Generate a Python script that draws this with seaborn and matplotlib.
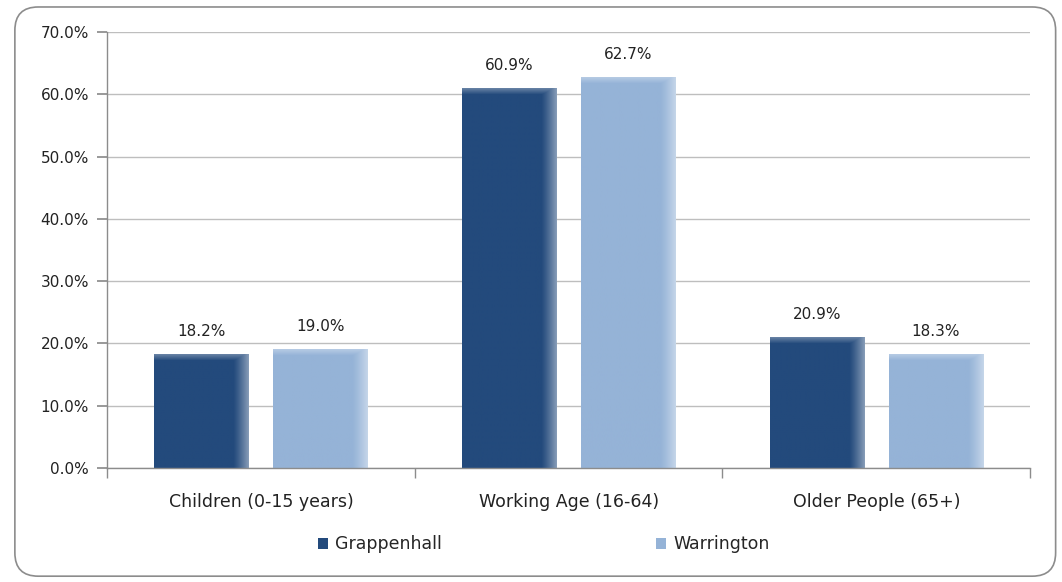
import matplotlib
matplotlib.use("Agg")
import matplotlib.pyplot as plt
import seaborn as sns
import pandas as pd
import numpy as np
from matplotlib.patches import FancyBboxPatch, Patch
from matplotlib.ticker import FixedLocator, PercentFormatter
from matplotlib.colors import to_rgb

categories = ["Children (0-15 years)", "Working Age (16-64)", "Older People (65+)"]
grappenhall = [18.2, 60.9, 20.9]
warrington = [19.0, 62.7, 18.3]
series_names = ["Grappenhall", "Warrington"]
yticks = [0, 10, 20, 30, 40, 50, 60, 70]

df = pd.DataFrame({
    "category": categories * 2,
    "value": grappenhall + warrington,
    "series": [series_names[0]] * 3 + [series_names[1]] * 3,
})

sns.set_theme(style="white")
plt.rcParams["font.family"] = ["DejaVu Sans"]

fig = plt.figure(figsize=(10.62, 5.82), dpi=100)
ax = fig.add_axes([0.1008, 0.196, 0.8692, 0.749])

colors = {"Grappenhall": "#234A7C", "Warrington": "#95B3D7"}
sns.barplot(data=df, x="category", y="value", hue="series", order=categories,
            hue_order=series_names, palette=colors, width=0.774, gap=0.21,
            ax=ax, legend=False, saturation=1)

ax.set_ylim(0, 70)
ax.set_xlim(-0.5, 2.5)

# gradient overlay: fade to lighter at right edge and top
units_per_px = 70 / 436.0
for p in list(ax.patches):
    x0, w, h = p.get_x(), p.get_width(), p.get_height()
    base = np.array(to_rgb(p.get_facecolor()))
    white = np.ones(3)
    ncols = 100
    nrows = max(int(h / units_per_px), 2)
    xs = np.linspace(0, 1, ncols)
    hfade = np.clip((xs - 0.84) / 0.16, 0, 1) ** 1.2 * 0.45
    ys_from_top = np.arange(nrows)
    vfade = np.clip(1 - ys_from_top / 6.0, 0, 1) * 0.3
    fade = np.maximum(hfade[None, :], vfade[:, None])
    img = base[None, None, :] * (1 - fade[..., None]) + white[None, None, :] * fade[..., None]
    ax.imshow(img, extent=(x0, x0 + w, 0, h), aspect="auto", origin="upper",
              interpolation="bilinear", zorder=p.get_zorder() + 0.1)
    p.set_alpha(0)

for cont, vals in zip(ax.containers, [grappenhall, warrington]):
    ax.bar_label(cont, labels=[f"{v:.1f}%" for v in vals], padding=11,
                 fontsize=11, color="#222222")

ax.set_ylim(0, 70)
ax.set_xlim(-0.5, 2.5)
ax.yaxis.set_major_locator(FixedLocator(yticks))
ax.yaxis.set_major_formatter(PercentFormatter(decimals=1))
ax.grid(axis="y", color="#BEBEBE", linewidth=1)
ax.set_axisbelow(True)
ax.set_xlabel("")
ax.set_ylabel("")
for s in ["top", "right"]:
    ax.spines[s].set_visible(False)
for s in ["left", "bottom"]:
    ax.spines[s].set_color("#8C8C8C")
    ax.spines[s].set_linewidth(1)
ax.tick_params(axis="y", left=True, length=7, color="#8C8C8C", labelsize=11,
               labelcolor="#222222", pad=6)
ax.tick_params(axis="x", bottom=False, labelsize=12.5, labelcolor="#222222", pad=12)
ax.set_xticks([-0.5, 0.5, 1.5, 2.5], minor=True)
ax.tick_params(axis="x", which="minor", bottom=True, length=7, color="#8C8C8C")

handles = [Patch(facecolor=colors[n], edgecolor="none") for n in series_names]
fig.legend(handles, series_names, loc="center", bbox_to_anchor=(0.512, 0.065),
           ncol=2, frameon=False, fontsize=12.5, handlelength=0.6, handleheight=0.6,
           handletextpad=0.4, columnspacing=12.3)

border = FancyBboxPatch((0.014, 0.01), 0.98, 0.978,
                        boxstyle="round,pad=0,rounding_size=0.022",
                        transform=fig.transFigure, facecolor="none",
                        edgecolor="#8C8C8C", linewidth=1.2, mutation_aspect=1062/582)
fig.patches.append(border)

fig.savefig("out.png", dpi=100)
